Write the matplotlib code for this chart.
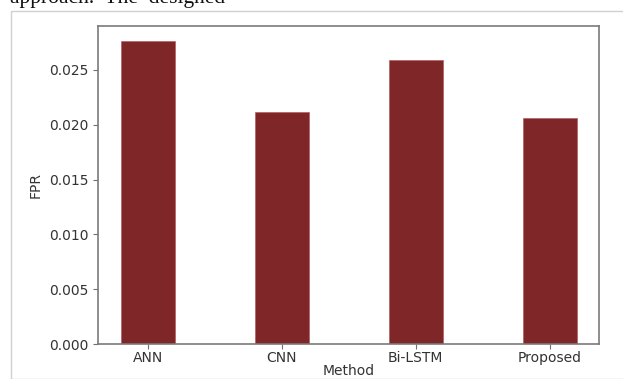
import matplotlib
matplotlib.use("Agg")
import matplotlib.pyplot as plt
from matplotlib.patches import Rectangle

methods = ["ANN", "CNN", "Bi-LSTM", "Proposed"]
fpr = [0.02765, 0.02120, 0.02592, 0.02065]

W, H = 623, 379
fig = plt.figure(figsize=(W / 100, H / 100), dpi=100)

# light frame of the screenshot
fig.patches.append(Rectangle((11 / W, 0), 1.0, 1 - 11 / H, transform=fig.transFigure,
                             fill=False, edgecolor="#d0d0d0", linewidth=1.0))
# cut-off text above the figure
fig.text(10 / W, 1 - 2.5 / H, "approach.  The  designed", family="Liberation Serif",
         fontsize=15.5, color="#111111", va="baseline", ha="left")

ax = fig.add_axes([98.3 / W, 35 / H, (599.3 - 98.3) / W, (344 - 25.7) / H])
x = range(len(methods))
ax.bar(x, fpr, width=0.4, color="#7e2628", edgecolor="#b05050", linewidth=0.4)
ax.set_xticks(list(x))
ax.set_xticklabels(methods)
ax.set_xlabel("Method", color="#333333", fontsize=10, labelpad=-1)
ax.set_ylabel("FPR", color="#333333", fontsize=10, labelpad=5)
ax.set_yticks([0.0, 0.005, 0.010, 0.015, 0.020, 0.025])
ax.set_yticklabels(["0.000", "0.005", "0.010", "0.015", "0.020", "0.025"])
ax.tick_params(colors="#707070", labelcolor="#333333", labelsize=10)
ax.tick_params(axis="x", pad=1.5)
for s in ax.spines.values():
    s.set_color("#7a7a7a")
    s.set_linewidth(1.2)

fig.savefig("out.png", dpi=100)
